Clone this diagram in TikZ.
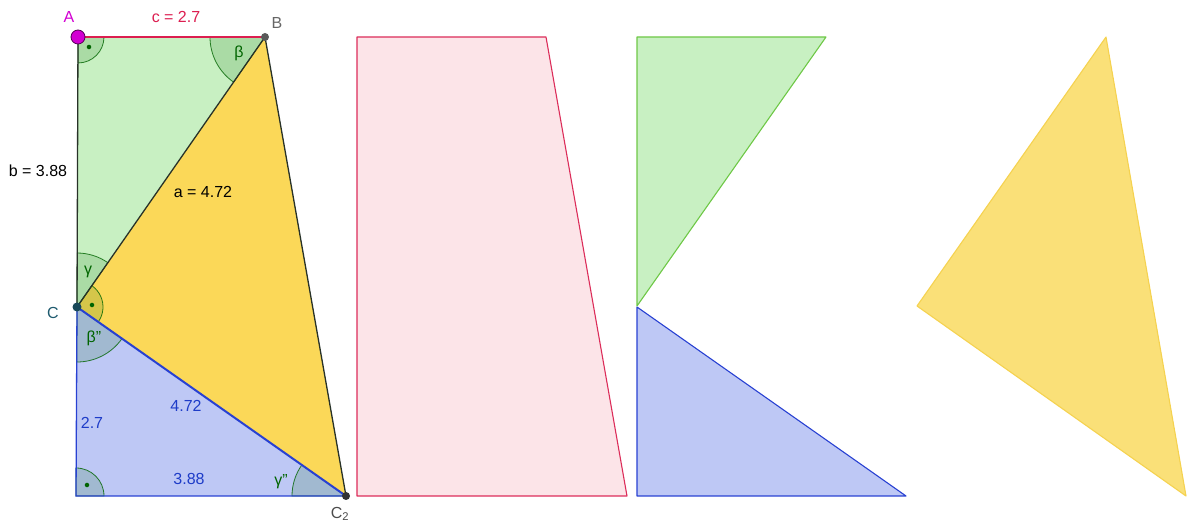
\documentclass[tikz,border=0pt]{standalone}
\usepackage{fontspec}
\setmainfont{Liberation Sans}
\definecolor{gfill}{RGB}{200,240,194}
\definecolor{gline}{RGB}{110,200,70}
\definecolor{yfill}{RGB}{251,216,88}
\definecolor{yfilltwo}{RGB}{250,224,120}
\definecolor{yline}{RGB}{245,210,80}
\definecolor{bfill}{RGB}{190,200,245}
\definecolor{bline}{RGB}{40,65,210}
\definecolor{pfill}{RGB}{252,228,232}
\definecolor{pline}{RGB}{220,45,90}
\definecolor{angcol}{RGB}{0,100,0}
\definecolor{edge}{RGB}{40,50,40}
\definecolor{magentapt}{RGB}{210,0,210}
\definecolor{crimsonlbl}{RGB}{220,30,80}
\definecolor{bluelbl}{RGB}{30,60,200}
\definecolor{teallbl}{RGB}{30,90,110}
\begin{document}
\begin{tikzpicture}[x=1pt,y=1pt,
  ang/.style={draw=angcol, fill=angcol, fill opacity=0.15, draw opacity=0.8, line width=0.8pt},
  lbl/.style={font=\fontsize{16}{18}\selectfont, inner sep=0pt},
  rdot/.style={fill=angcol, circle, inner sep=1.6pt},
  vdot/.style={circle, inner sep=0pt, minimum size=#1},
  edgeln/.style={draw=edge, line width=1.3pt, line join=round}]
\useasboundingbox (0,0) rectangle (1187,522);
% points
\coordinate (A) at (78,485);
\coordinate (B) at (265,485);
\coordinate (C) at (77,215);
\coordinate (D) at (76,26);
\coordinate (C2) at (346,26);
% fills
\fill[gfill] (A) -- (B) -- (C) -- cycle;
\fill[yfill] (C) -- (B) -- (C2) -- cycle;
\fill[bfill] (C) -- (D) -- (C2) -- cycle;
% angles
\filldraw[ang] (A) -- ++(0:26) arc[start angle=0, end angle=-90, radius=26] -- cycle;
\filldraw[ang] (B) -- ++(180:55) arc[start angle=180, end angle=235.15, radius=55] -- cycle;
\filldraw[ang] (C) -- ++(89.8:54) arc[start angle=89.8, end angle=55.15, radius=54] -- cycle;
\filldraw[ang] (C) -- ++(55.15:26) arc[start angle=55.15, end angle=-35.09, radius=26] -- cycle;
\filldraw[ang] (C) -- ++(-35.09:55) arc[start angle=-35.09, end angle=-90.3, radius=55] -- cycle;
\filldraw[ang] (D) -- ++(90:28) arc[start angle=90, end angle=0, radius=28] -- cycle;
\filldraw[ang] (C2) -- ++(180:54) arc[start angle=180, end angle=144.9, radius=54] -- cycle;
\node[rdot] (dA) at (89,475) {};
\node[rdot] (dC) at (92,217) {};
\node[rdot] (dD) at (87,37) {};
% edges
\draw[draw=crimsonlbl, line width=1.3pt] (A) -- (B);
\draw[edgeln] (A) -- (C);
\draw[edgeln] (C) -- (B);
\draw[edgeln] (B) -- (C2);
\draw[draw=bline, line width=1.3pt] (C) -- (D) -- (C2);
\draw[draw=bline, line width=2pt] (C) -- (C2);
% vertex dots
\node[vdot=14pt, fill=magentapt, draw=black!60!magentapt, line width=0.8pt] (pA) at (A) {};
\node[vdot=8pt, fill=black!65] (pB) at (B) {};
\node[vdot=9pt, fill=teallbl!80!black] (pC) at (C) {};
\node[vdot=8pt, fill=black!80] (pC2) at (C2) {};
% labels
\node[lbl, text=magentapt] (lA) at (69,505) {A};
\node[lbl, text=crimsonlbl] (lc) at (176,505) {c = 2.7};
\node[lbl, text=black!60] (lB) at (277,499) {B};
\node[lbl, text=angcol] (lbeta) at (239,469) {β};
\node[lbl] (lb) at (38,351) {b = 3.88};
\node[lbl] (la) at (203,330) {a = 4.72};
\node[lbl, text=angcol] (lgamma) at (88,250) {γ};
\node[lbl, text=teallbl] (lC) at (53,209) {C};
\node[lbl, text=angcol] (lbeta2) at (94,184) {β"};
\node[lbl, text=bluelbl] (l27) at (92,99) {2.7};
\node[lbl, text=bluelbl] (l472) at (186,116) {4.72};
\node[lbl, text=bluelbl] (l388) at (189,43) {3.88};
\node[lbl, text=angcol] (lgamma2) at (281,40) {γ"};
\node[lbl, text=black!70, anchor=south] (lC2) at (340,1) {C\textsubscript{2}};
% right-hand pieces
\filldraw[fill=pfill, draw=pline, line width=1.1pt, line join=round]
  (357,485) -- (546,485) -- (627,26) -- (357,26) -- cycle;
\filldraw[fill=gfill, draw=gline, line width=1.1pt, line join=round]
  (637,485) -- (826,485) -- (637,216) -- cycle;
\filldraw[fill=bfill, draw=bline, line width=1.1pt, line join=round]
  (637,215) -- (637,26) -- (906,26) -- cycle;
\filldraw[fill=yfilltwo, draw=yline, line width=1.1pt, line join=round]
  (1106,485) -- (917,216) -- (1186,26) -- cycle;
\end{tikzpicture}
\end{document}
